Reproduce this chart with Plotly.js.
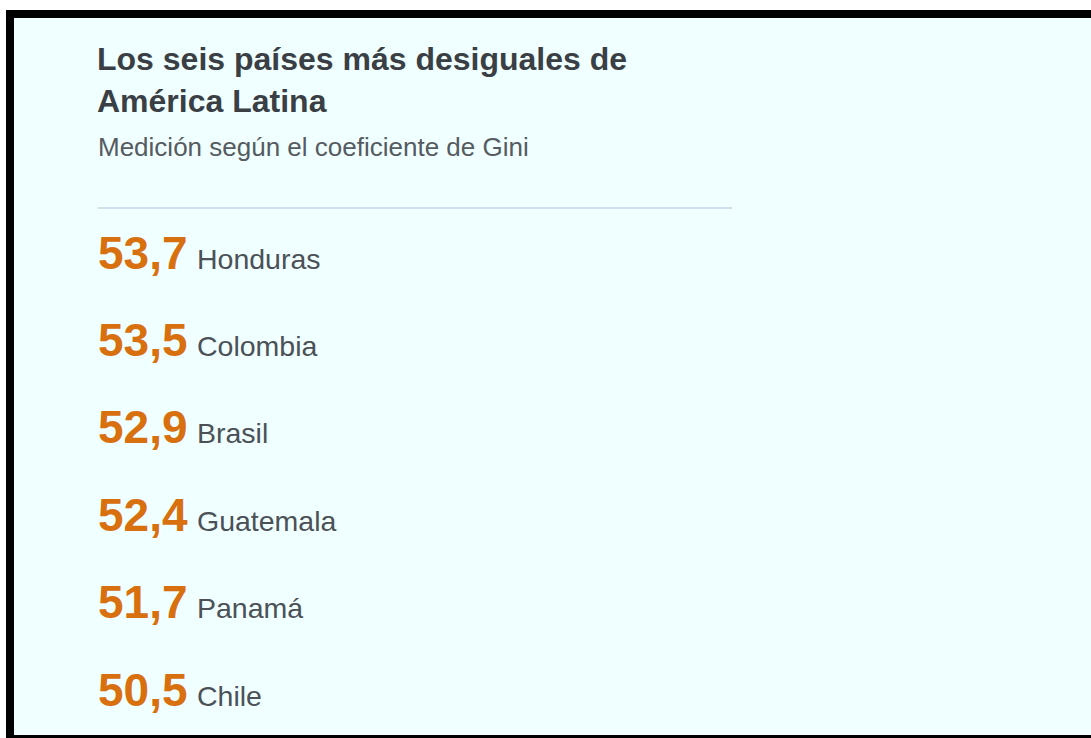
<!DOCTYPE html>
<html>
<head>
<meta charset="utf-8">
<script src="https://cdn.plot.ly/plotly-3.0.1.min.js"></script>
<style>
html,body{margin:0;padding:0;background:#fff;}
#chart{width:1091px;height:738px;}
</style>
</head>
<body>
<div id="chart"></div>
<script>
const countries = ["Honduras", "Colombia", "Brasil", "Guatemala", "Panamá", "Chile"];
const gini = [53.7, 53.5, 52.9, 52.4, 51.7, 50.5];
const titleText = "<b>Los seis países más desiguales de<br>América Latina</b>";
const subtitleText = "Medición según el coeficiente de Gini";

const W = 1091, H = 738;
const FONT = "Liberation Sans, Arial, Helvetica, sans-serif";
const rowIdx = countries.map((c, i) => i);

const trace = {
  type: "scatter",
  mode: "text",
  x: countries.map(() => 0),
  y: rowIdx,
  text: gini.map((v, i) => "<b>" + v.toFixed(1).replace(".", ",") + "</b>" +
    '<span style="font-size:34px"> </span>' +
    '<span style="font-size:28.5px;fill:#4b5157;color:#4b5157">' + countries[i] + "</span>"),
  textposition: "middle right",
  textfont: {family: FONT, size: 46, color: "#d9700f"},
  hoverinfo: "skip",
  cliponaxis: false
};

const pxPerRow = 87.4;
const firstRowPx = 257;
const layout = {
  width: W, height: H,
  margin: {l: 0, r: 0, t: 0, b: 0},
  paper_bgcolor: "#ffffff",
  plot_bgcolor: "rgba(0,0,0,0)",
  showlegend: false,
  hovermode: false,
  xaxis: {range: [-98, W - 98], visible: false, fixedrange: true},
  yaxis: {range: [(H - firstRowPx) / pxPerRow, -firstRowPx / pxPerRow], visible: false, fixedrange: true},
  title: {
    text: titleText,
    font: {family: FONT, size: 32, color: "#3a3f45"},
    xref: "container", yref: "container",
    x: 97 / W, xanchor: "left",
    y: 1 - 70 / H, yanchor: "top"
  },
  annotations: [{
    text: subtitleText,
    xref: "paper", yref: "paper",
    x: 96 / W, xanchor: "left",
    y: 1 - 130 / H, yanchor: "top",
    showarrow: false,
    font: {family: FONT, size: 26, color: "#555b61"}
  }],
  shapes: [
    {type: "rect", xref: "paper", yref: "paper", x0: 6 / W, x1: 1, y0: 0, y1: 1 - 10 / H,
     fillcolor: "#000000", line: {width: 0}, layer: "below"},
    {type: "rect", xref: "paper", yref: "paper", x0: 14 / W, x1: 1, y0: 1 - 735 / H, y1: 1 - 18 / H,
     fillcolor: "#f0ffff", line: {width: 0}, layer: "below"},
    {type: "line", xref: "paper", yref: "paper", x0: 98 / W, x1: 732 / W, y0: 1 - 208 / H, y1: 1 - 208 / H,
     line: {color: "#c9d3e3", width: 1.5}, layer: "below"}
  ]
};

Plotly.newPlot("chart", [trace], layout, {staticPlot: true, displayModeBar: false});
</script>
</body>
</html>
